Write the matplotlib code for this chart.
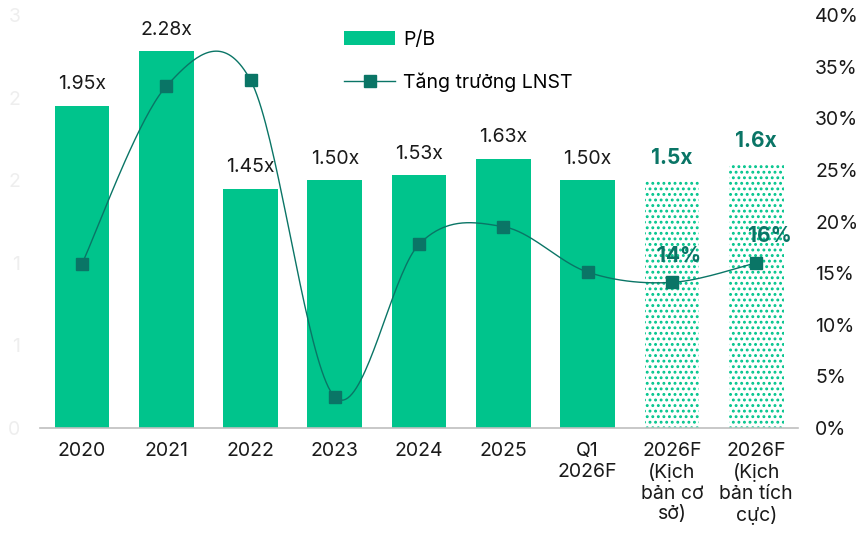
import numpy as np
import matplotlib.pyplot as plt
from matplotlib.ticker import FuncFormatter, MultipleLocator
from matplotlib.patches import Patch
from matplotlib.lines import Line2D

plt.rcParams['font.family'] = ['Inter', 'DejaVu Sans']
plt.rcParams['hatch.linewidth'] = 1.3

categories = ['2020', '2021', '2022', '2023', '2024', '2025', 'Q1\n2026F',
              '2026F\n(Kịch\nbản cơ\nsở)', '2026F\n(Kịch\nbản tích\ncực)']
pb = [1.95, 2.28, 1.45, 1.50, 1.53, 1.63, 1.50, 1.5, 1.6]
pb_labels = ['1.95x', '2.28x', '1.45x', '1.50x', '1.53x', '1.63x', '1.50x', '1.5x', '1.6x']
growth = [15.9, 33.1, 33.7, 3.0, 17.8, 19.5, 15.1, 14.1, 16.0]
growth_labels = {7: '14%', 8: '16%'}
forecast = [7, 8]

green = '#00C48C'
teal = '#0A7566'
fs = 14


def smooth(xs, ys, n=40):
    # catmull-rom style smoothing like the spreadsheet line
    xs = np.asarray(xs, float)
    ys = np.asarray(ys, float)
    px = np.concatenate([[xs[0]], xs, [xs[-1]]])
    py = np.concatenate([[ys[0]], ys, [ys[-1]]])
    ox, oy = [], []
    for i in range(1, len(px) - 2):
        p0, p1, p2, p3 = (np.array([px[j], py[j]]) for j in (i - 1, i, i + 1, i + 2))
        c1 = p1 + (p2 - p0) / 6
        c2 = p2 - (p3 - p1) / 6
        t = np.linspace(0, 1, n)[:, None]
        pts = (1 - t) ** 3 * p1 + 3 * (1 - t) ** 2 * t * c1 + 3 * (1 - t) * t ** 2 * c2 + t ** 3 * p2
        ox.extend(pts[:, 0])
        oy.extend(pts[:, 1])
    return np.array(ox), np.array(oy)


fig = plt.figure(figsize=(8.65, 5.41), dpi=100)
ax = fig.add_axes([0.046, 0.209, 0.877, 0.763])
x = np.arange(len(categories))

for i in x:
    if i in forecast:
        ax.bar(i, pb[i], width=0.65, facecolor='white', edgecolor=green,
               hatch='...', linewidth=0)
    else:
        ax.bar(i, pb[i], width=0.65, color=green)

for i in x:
    if i in forecast:
        ax.annotate(pb_labels[i], (i, pb[i]), xytext=(0, 9), textcoords='offset points',
                    ha='center', va='bottom', fontsize=15, fontweight='bold', color=teal)
    else:
        ax.annotate(pb_labels[i], (i, pb[i]), xytext=(0, 9), textcoords='offset points',
                    ha='center', va='bottom', fontsize=fs, color='#1a1a1a')

ax.set_xlim(-0.5, len(categories) - 0.5)
ax.set_ylim(0, 2.5)
ax.yaxis.set_major_locator(MultipleLocator(0.5))
ax.yaxis.set_major_formatter(FuncFormatter(lambda v, p: '%d' % int(v + 0.5)))
ax.tick_params(axis='y', length=0, labelsize=fs, labelcolor='#eeeeee', pad=14)
ax.tick_params(axis='x', length=0, labelsize=fs, labelcolor='#1a1a1a', pad=10)
ax.set_xticks(x)
ax.set_xticklabels(categories, linespacing=1.2)
for s in ['top', 'right', 'left']:
    ax.spines[s].set_visible(False)
ax.spines['bottom'].set_color('#bfbfbf')
ax.spines['bottom'].set_linewidth(1.2)

ax2 = ax.twinx()
sx, sy = smooth(x, growth)
ax2.plot(sx, sy, color=teal, linewidth=1)
ax2.plot(x, growth, linestyle='none', marker='s', markersize=9, color=teal)
ax2.set_ylim(0, 40)
ax2.yaxis.set_major_locator(MultipleLocator(5))
ax2.yaxis.set_major_formatter(FuncFormatter(lambda v, p: '%d%%' % v))
ax2.tick_params(axis='y', length=0, labelsize=fs, labelcolor='#1a1a1a', pad=12)
for s in ax2.spines.values():
    s.set_visible(False)
for i, t in growth_labels.items():
    ax2.annotate(t, (x[i], growth[i]), xytext=(10 if i == 8 else 5, 12), textcoords='offset points',
                 ha='center', va='bottom', fontsize=15, fontweight='bold', color=teal)

handles = [Patch(facecolor=green, edgecolor='none'),
           Line2D([0], [0], color=teal, linewidth=1, marker='s', markersize=9)]
fig.legend(handles, ['P/B', 'Tăng trưởng LNST'], loc='upper left',
           bbox_to_anchor=(0.378, 0.975), frameon=False, fontsize=fs,
           handlelength=2.6, handleheight=0.7, labelspacing=1.2, handletextpad=0.4)

fig.savefig('out.png', dpi=100)
